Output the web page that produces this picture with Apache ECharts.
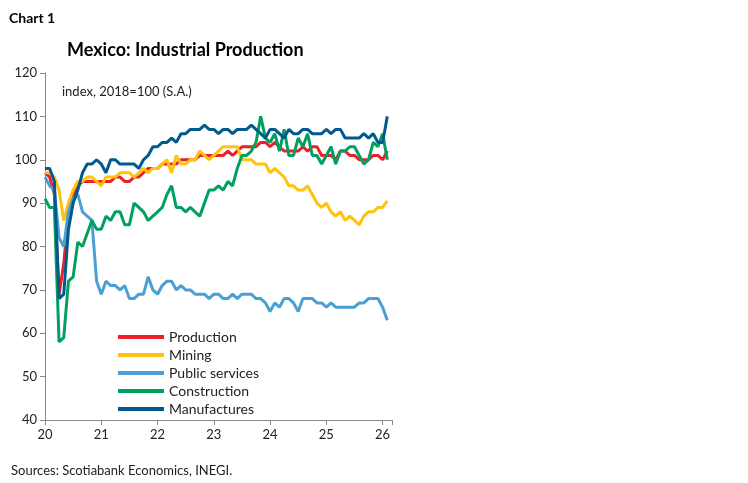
<!DOCTYPE html>
<html>
<head>
<meta charset="utf-8">
<script src="https://cdn.jsdelivr.net/npm/echarts@6/dist/echarts.min.js"></script>
</head>
<body style="margin:0">
<div id="main" style="width:748px;height:483px;"></div>
<script>
// monthly, Jan 2020 .. Feb 2026
var production = [97,96,92,69,76,88,92,94,95,95,95,95, 95,95,95,96,96,95,95,96,96,97,98,98,
  98,99,99,99,99,100,100,100,100,101,101,101, 101,101,101,102,101,102,103,103,103,103,104,104,
  103,104,103,102,102,102,102,103,102,103,103,101, 101,101,100,102,102,101,101,100,100,100,101,101, 100,102];
var mining = [97,97,96,93,86,90,93,95,95,96,96,95, 94,96,96,96,97,97,97,96,97,98,97,98,
  98,99,100,97,101,99,99,100,100,102,101,100, 101,102,103,103,103,103,100,100,100,99,99,99,
  97,98,97,96,94,94,93,93,94,92,90,89, 90,88,87,88,86,87,86,85,87,88,88,89, 89,90.5];
var publicServices = [96,94,93,82,80,88,91,92,88,87,86,72, 69,72,71,71,70,71,68,68,69,69,73,70,
  69,71,72,72,70,71,70,70,69,69,69,68, 69,69,68,68,69,68,69,69,69,68,68,67,
  65,67,66,68,68,67,65,68,68,68,67,67, 66,67,66,66,66,66,66,67,67,68,68,68, 66,63];
var construction = [91,89,89,58,59,72,73,81,80,83,86,84, 84,87,86,88,88,85,85,90,89,88,86,87,
  88,89,92,94,89,89,88,89,88,87,90,93, 93,94,93,95,94,98,101,101,102,104,110,105,
  104,106,102,107,101,101,105,103,106,101,101,99, 101,103,99,102,102,103,103,101,99,100,104,103, 106,100];
var manufactures = [98,98,95,68,69,84,90,93,97,99,99,100, 99,97,100,100,99,99,99,99,98,100,101,103,
  103,104,104,105,104,106,106,107,107,107,108,107, 107,106,107,107,106,107,107,107,108,107,106,105,
  107,107,106,105,107,106,106,107,107,106,106,106, 107,106,107,107,105,105,105,105,106,105,106,104, 104,110];

function pts(arr) { return arr.map(function (v, i) { return [20 + i / 12, v]; }); }

var chart = echarts.init(document.getElementById('main'));
var font = 'Lato';
function line(name, data, color) {
  return { name: name, type: 'line', data: pts(data), symbol: 'none',
    lineStyle: { width: 3, color: color }, itemStyle: { color: color } };
}
chart.setOption({
  animation: false,
  textStyle: { fontFamily: font },
  title: [
    { text: 'Chart 1', left: 4, top: 6, textStyle: { fontSize: 14, fontWeight: 'bold', color: '#000' } },
    { text: 'Mexico: Industrial Production', left: 62, top: 36, textStyle: { fontSize: 18, fontWeight: 'bold', color: '#000' } },
    { text: 'index, 2018=100 (S.A.)', left: 57, top: 80, textStyle: { fontSize: 13, fontWeight: 'normal', color: '#222' } },
    { text: 'Sources: Scotiabank Economics, INEGI.', left: 6, top: 459, textStyle: { fontSize: 13, fontWeight: 'normal', color: '#222' } }
  ],
  grid: { left: 45, right: 356, top: 73, bottom: 63 },
  legend: { orient: 'vertical', left: 113, top: 325, itemWidth: 46, itemHeight: 4, itemGap: 4,
    icon: 'rect', textStyle: { fontSize: 14, color: '#222', lineHeight: 14 } },
  xAxis: { type: 'value', min: 20, max: 20 + 74 / 12, interval: 1,
    axisLine: { lineStyle: { color: '#888' } }, axisTick: { length: 5, lineStyle: { color: '#888' } },
    splitLine: { show: false },
    axisLabel: { fontSize: 13, color: '#222', formatter: function (v) { return Math.abs(v - Math.round(v)) < 1e-6 ? String(Math.round(v)) : ''; } } },
  yAxis: { type: 'value', min: 40, max: 120, interval: 10,
    axisLine: { show: true, lineStyle: { color: '#888' } }, axisTick: { show: true, length: 5, lineStyle: { color: '#888' } },
    splitLine: { show: false }, axisLabel: { fontSize: 13, color: '#222' } },
  series: [
    line('Production', production, '#ec2027'),
    line('Mining', mining, '#ffc20e'),
    line('Public services', publicServices, '#4aa0d5'),
    line('Construction', construction, '#00a160'),
    line('Manufactures', manufactures, '#005a8c')
  ]
});
</script>
</body>
</html>
